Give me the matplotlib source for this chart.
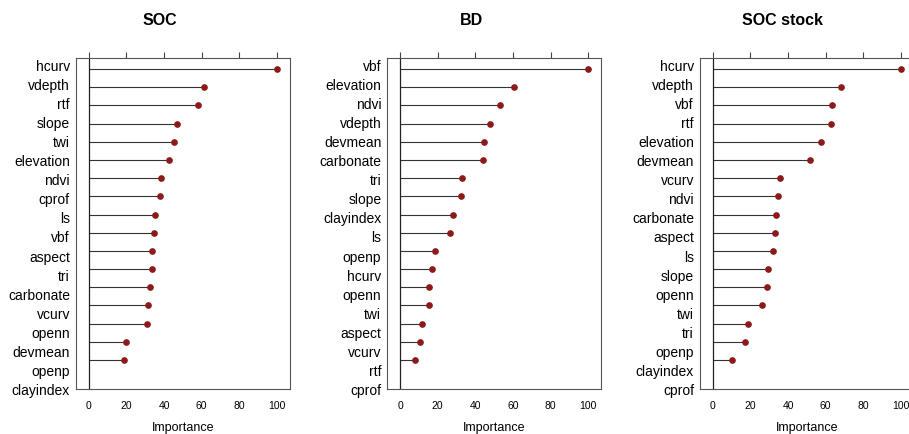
import numpy as np
import matplotlib
matplotlib.use("Agg")
import matplotlib.pyplot as plt
import matplotlib.transforms as mtransforms

plt.rcParams['font.family'] = ['Liberation Sans', 'DejaVu Sans']

# variable importance, top to bottom (last variable has no marker)
soc_vars = ["hcurv", "vdepth", "rtf", "slope", "twi", "elevation", "ndvi", "cprof", "ls",
            "vbf", "aspect", "tri", "carbonate", "vcurv", "openn", "devmean", "openp", "clayindex"]
soc_imp = [100, 61.1, 57.9, 46.7, 45.5, 42.6, 38.6, 38.1, 35.2,
           34.9, 33.8, 33.6, 32.6, 31.3, 31.2, 19.8, 18.8]

bd_vars = ["vbf", "elevation", "ndvi", "vdepth", "devmean", "carbonate", "tri", "slope", "clayindex",
           "ls", "openp", "hcurv", "openn", "twi", "aspect", "vcurv", "rtf", "cprof"]
bd_imp = [100, 60.6, 53.0, 47.9, 44.7, 44.1, 32.8, 32.5, 28.0,
          26.3, 18.3, 17.2, 15.4, 15.1, 11.7, 10.5, 7.8]

stock_vars = ["hcurv", "vdepth", "vbf", "rtf", "elevation", "devmean", "vcurv", "ndvi", "carbonate",
              "aspect", "ls", "slope", "openn", "twi", "tri", "openp", "clayindex", "cprof"]
stock_imp = [100, 68.0, 63.4, 62.7, 57.4, 51.7, 35.7, 34.5, 33.6,
             32.9, 32.0, 29.3, 28.9, 26.3, 18.8, 17.0, 10.1]

panels = [("SOC", soc_vars, soc_imp, 0.0836, 0.176),
          ("BD", bd_vars, bd_imp, 0.4261, 0.519),
          ("SOC stock", stock_vars, stock_imp, 0.7701, 0.861)]

fig = plt.figure(figsize=(9.09, 4.34), dpi=100)

for title, names, imp, left, tx in panels:
    ax = fig.add_axes([left, 0.1037, 0.2355, 0.762])
    y = np.arange(len(imp))
    ax.hlines(y, 0, imp, color='#333333', lw=0.8)
    ax.plot(imp, y, 'o', color='#8B1A1A', ms=3.8, mec='#8B1A1A')
    ax.axvline(0, color='#222222', lw=0.9)
    ax.set_xlim(-6.8, 107)
    ax.set_ylim(len(names) - 1 + 0.59, -0.59)
    ax.set_xticks([0, 20, 40, 60, 80, 100])
    ax.tick_params(axis='x', top=True, bottom=False, labelsize=7.5, length=4.3,
                   direction='out', pad=4.5, color='#444444')
    ax.set_yticks([])
    for s in ax.spines.values():
        s.set_color('#555555')
        s.set_linewidth(0.8)
    # the names sit on a slightly wider spacing than the markers
    trans = mtransforms.blended_transform_factory(ax.transAxes, ax.transData)
    for i, n in enumerate(names):
        ax.text(-0.028, -0.128 + 1.049 * i, n, transform=trans, ha='right', va='center',
                fontsize=10, clip_on=False)
    ax.set_xlabel("Importance", fontsize=9, labelpad=8)
    fig.text(tx, 0.952, title, ha='center', va='center', fontsize=11.5, fontweight='bold')

fig.savefig("out.png", dpi=100)
